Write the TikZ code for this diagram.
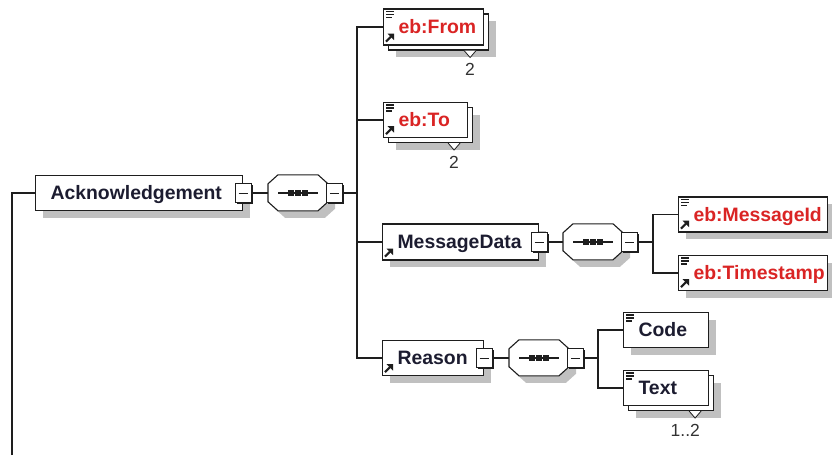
\documentclass[tikz,border=0pt]{standalone}
\usepackage{fontspec}
\setmainfont{Liberation Sans}
\usetikzlibrary{calc,shadows}
\definecolor{shadowgray}{RGB}{192,192,192}
\definecolor{linec}{RGB}{30,30,30}
\definecolor{txtc}{RGB}{28,28,48}
\definecolor{redc}{RGB}{218,36,36}
\definecolor{multc}{RGB}{50,50,50}
\tikzset{
  base/.style={draw=linec, line width=1.1pt, fill=white, anchor=west,
    minimum height=35pt, inner xsep=15pt, inner ysep=0pt,
    text height=13.8pt, text depth=0pt, align=left, text=txtc,
    font=\bfseries\fontsize{19.4}{22}\selectfont},
  single/.style={base, general shadow={shadow xshift=7pt, shadow yshift=-7pt, fill=shadowgray}},
  multi/.style={base,
    general shadow={shadow xshift=12pt, shadow yshift=-12pt, fill=shadowgray},
    general shadow={shadow xshift=5pt, shadow yshift=-5pt, fill=white, draw=linec, line width=1.1pt}},
  redtext/.style={text=redc},
  minusbox/.style={draw=linec, line width=1pt, fill=white, minimum width=16pt,
    minimum height=19pt, inner sep=0pt,
    general shadow={shadow xshift=1.8pt, shadow yshift=-1.8pt, fill=linec},
    path picture={\draw[line width=1pt, linec]
      ([xshift=-4.5pt]path picture bounding box.center) -- ([xshift=4.5pt]path picture bounding box.center);}},
  seqnode/.style={draw=none, minimum width=60pt, minimum height=36pt, inner sep=0pt, anchor=west},
  conn/.style={draw=linec, line width=1.2pt},
  mult/.style={text=multc, inner sep=0pt, anchor=east, text height=12.6pt, text depth=0pt,
    font=\fontsize{17.5}{20}\selectfont},
  tri/.style={draw=linec, line width=0.8pt, fill=white},
}
\newcommand\octa[1]{%
  \fill[shadowgray] ([shift={(17,7)}]#1.north west) -- ++(40,0) -- ++(10,9) -- ++(0,18)
    -- ++(-10,9) -- ++(-40,0) -- ++(-10,-9) -- ++(0,-18) -- cycle;
  \draw[draw=linec, line width=1.1pt, fill=white] ([shift={(10,0)}]#1.north west) -- ++(40,0) -- ++(10,9) -- ++(0,18)
    -- ++(-10,9) -- ++(-40,0) -- ++(-10,-9) -- ++(0,-18) -- cycle;
  \draw[line width=1.2pt, linec] ([xshift=-20pt]#1.center) -- ([xshift=20pt]#1.center);
  \fill[linec] ([shift={(-10,-3)}]#1.center) rectangle ++(6,6);
  \fill[linec] ([shift={(-3,-3)}]#1.center) rectangle ++(6,6);
  \fill[linec] ([shift={(4,-3)}]#1.center) rectangle ++(6,6);
}
\newcommand\eqicon[1]{%
  \draw[line width=1.2pt, linec] ([shift={(3,3)}]#1.north west) -- ++(8,0)
    ([shift={(3,6)}]#1.north west) -- ++(8,0)
    ([shift={(3,9)}]#1.north west) -- ++(6,0);
}
\newcommand\refarrow[1]{%
  \draw[line width=2.2pt, linec] ([shift={(3,-4)}]#1.south west) -- ++(5,-5);
  \fill[linec] ([shift={(11,-12)}]#1.south west) -- ++(-6.5,0) -- ++(6.5,6.5) -- cycle;
}
\begin{document}
\begin{tikzpicture}[x=1pt, y=-1pt]
\useasboundingbox (0,0) rectangle (832,455);

% root element
\node[single, text width=177pt] (ack) at (35,193) {Acknowledgement};
\node[minusbox] (ackm) at (ack.east) {};
\node[seqnode] (s1) at (268,193) {};
\octa{s1}
\node[minusbox] (s1m) at ([xshift=6pt]s1.east) {};
\coordinate (j1) at (357,193);
\coordinate (rootc) at (12,455);

% children of sequence 1
\node[multi, redtext, text width=70pt, minimum height=36pt] (from) at (383,27) {eb:From};
\node[multi, redtext, text width=54pt] (to) at (383,120) {eb:To};
\node[single, text width=126pt, minimum height=36pt] (md) at (382,242) {MessageData};
\node[minusbox] (mdm) at (md.east) {};
\node[single, text width=71pt] (reason) at (382,358) {Reason};
\node[minusbox] (reasonm) at (reason.east) {};

% sequence 2
\node[seqnode] (s2) at (563,242) {};
\octa{s2}
\node[minusbox] (s2m) at ([xshift=6pt]s2.east) {};
\coordinate (j2) at (653,242);
\node[single, redtext, text width=119pt] (msgid) at (678,214.5) {eb:MessageId};
\node[single, redtext, text width=119pt] (ts) at (678,273) {eb:Timestamp};

% sequence 3
\node[seqnode] (s3) at (509,358) {};
\octa{s3}
\node[minusbox] (s3m) at ([xshift=6pt]s3.east) {};
\coordinate (j3) at (598,358);
\node[single, text width=55pt] (code) at (623,330) {Code};
\node[multi, text width=55pt] (txt) at (623,388) {Text};

% icons
\eqicon{from}\refarrow{from}
\eqicon{to}\refarrow{to}
\refarrow{md}
\refarrow{reason}
\eqicon{msgid}\refarrow{msgid}
\eqicon{ts}\refarrow{ts}
\eqicon{code}
\eqicon{txt}

% multiplicity markers
\draw[tri] ($(from.south east)+(-20,5)$) -- ++(6,7) -- ++(6,-7);
\node[mult] (fromn) at ($(from.south east)+(-9,24)$) {2};
\draw[tri] ($(to.south east)+(-20,5)$) -- ++(6,7) -- ++(6,-7);
\node[mult] (ton) at ($(to.south east)+(-9,24)$) {2};
\draw[tri] ($(txt.south east)+(-20,5)$) -- ++(6,7) -- ++(6,-7);
\node[mult] (txtn) at ($(txt.south east)+(-9,24)$) {1..2};

% connectors
\draw[conn] (rootc) |- (ack.west);
\draw[conn] (ackm.east) -- (s1.west);
\draw[conn] (s1m.east) -- (j1);
\draw[conn] (j1) |- (from.west);
\draw[conn] (j1) |- (to.west);
\draw[conn] (j1) |- (md.west);
\draw[conn] (j1) |- (reason.west);
\draw[conn] (mdm.east) -- (s2.west);
\draw[conn] (s2m.east) -- (j2);
\draw[conn] (j2) |- (msgid.west);
\draw[conn] (j2) |- (ts.west);
\draw[conn] (reasonm.east) -- (s3.west);
\draw[conn] (s3m.east) -- (j3);
\draw[conn] (j3) |- (code.west);
\draw[conn] (j3) |- (txt.west);
\end{tikzpicture}
\end{document}
